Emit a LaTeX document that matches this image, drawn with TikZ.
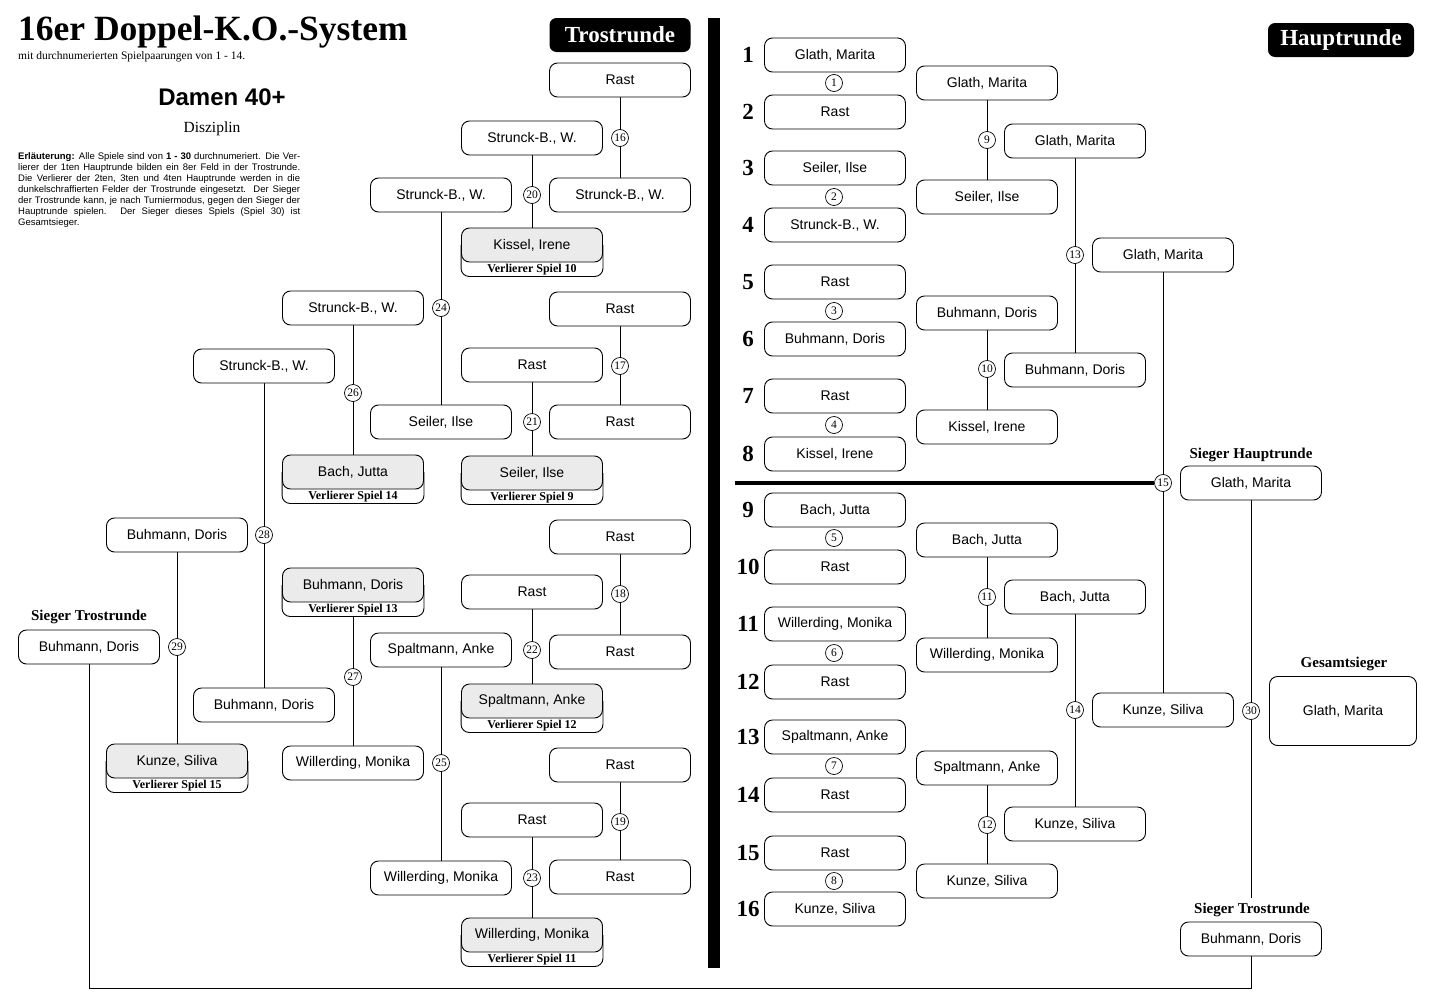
\documentclass[tikz,border=0pt]{standalone}
\usepackage{fontspec}
\setmainfont{Liberation Serif}
\setsansfont{Liberation Sans}
\usetikzlibrary{calc}
\pgfdeclarelayer{bg}
\pgfsetlayers{bg,main}
\newcommand\lbx[5]{%
  \node[lbox] (#1) at (#2,#3) {#4};
  \draw[boxline] (#1.west) -- ($(#1.south west)+(0,14)$) -- ($(#1.south east)+(0,14)$) -- (#1.east);
  \coordinate (#1b) at ($(#1.south)+(0,14)$);
  \node[vtext] (#1v) at ($(#1.south)+(0,7)$) {Verlierer Spiel #5};
}
\begin{document}
\begin{tikzpicture}[x=1pt,y=-1pt,
  boxline/.style={line width=0.9pt, rounded corners=8pt},
  pbox/.style={draw, line width=0.9pt, rounded corners=8pt, minimum width=141pt, minimum height=34pt, inner sep=0pt, fill=white, font=\sffamily\fontsize{14}{14}\selectfont},
  lbox/.style={pbox, fill=black!8},
  vtext/.style={inner sep=0pt, font=\bfseries\fontsize{12}{12}\selectfont},
  gnum/.style={circle, draw, line width=0.7pt, fill=white, minimum size=17pt, inner sep=0pt, font=\fontsize{11.5}{11.5}\selectfont},
  conn/.style={line width=0.9pt},
  seednum/.style={inner sep=0pt, font=\bfseries\fontsize{23}{23}\selectfont},
  capt/.style={inner sep=0pt, font=\bfseries\fontsize{15}{15}\selectfont},
  tag/.style={fill=black, text=white, rounded corners=7pt, minimum height=34pt, inner sep=0pt, font=\bfseries\fontsize{23}{23}\selectfont}
]
\useasboundingbox (0,0) rectangle (1433,1004);

% ---------- header ----------
\node[anchor=base west, inner sep=0pt, font=\bfseries\fontsize{35.5}{36}\selectfont] (title) at (18,40) {16er Doppel-K.O.-System};
\node[anchor=base west, inner sep=0pt, font=\fontsize{11.5}{12}\selectfont] (subt) at (18,59) {mit durchnumerierten Spielpaarungen von 1 - 14.};
\node[font=\sffamily\bfseries\fontsize{24}{24}\selectfont] (damen) at (222,97) {Damen 40+};
\node[font=\fontsize{15.5}{16}\selectfont] (disz) at (212,129) {Disziplin};
\node[anchor=north west, inner sep=0pt, align=left, font=\sffamily\fontsize{9.5}{11}\selectfont] (expl) at (18,152) {%
\makebox[282pt][s]{\textbf{Erläuterung:} Alle Spiele sind von \textbf{1 - 30} durchnumeriert. Die Ver-}\\
\makebox[282pt][s]{lierer der 1ten Hauptrunde bilden ein 8er Feld in der Trostrunde.}\\
\makebox[282pt][s]{Die Verlierer der 2ten, 3ten und 4ten Hauptrunde werden in die}\\
\makebox[282pt][s]{dunkelschraffierten Felder der Trostrunde eingesetzt. Der Sieger}\\
\makebox[282pt][s]{der Trostrunde kann, je nach Turniermodus, gegen den Sieger der}\\
\makebox[282pt][s]{Hauptrunde spielen. Der Sieger dieses Spiels (Spiel 30) ist}\\
Gesamtsieger.};

% ---------- tags ----------
\node[tag, minimum width=141pt] (tagT) at (620,35) {Trostrunde};
\node[tag, minimum width=146pt] (tagH) at (1341,40) {Hauptrunde};

% divider bar
\fill (708,18) rectangle (720,968);

% ---------- Trostrunde ----------
\node[pbox] (t16a) at (620,80) {Rast};
\node[pbox] (t20a) at (532,138) {Strunck-B., W.};
\node[pbox] (t16b) at (620,195) {Strunck-B., W.};
\node[pbox] (t24a) at (441,195) {Strunck-B., W.};
\lbx{t20b}{532}{245}{Kissel, Irene}{10}
\node[pbox] (t26a) at (353,308) {Strunck-B., W.};
\node[pbox] (t17a) at (620,309) {Rast};
\node[pbox] (t21a) at (532,365) {Rast};
\node[pbox] (t28a) at (264,366) {Strunck-B., W.};
\node[pbox] (t17b) at (620,422) {Rast};
\node[pbox] (t24b) at (441,422) {Seiler, Ilse};
\lbx{t26b}{353}{472}{Bach, Jutta}{14}
\lbx{t21b}{532}{473}{Seiler, Ilse}{9}
\node[pbox] (t29a) at (177,535) {Buhmann, Doris};
\node[pbox] (t18a) at (620,537) {Rast};
\lbx{t27a}{353}{585}{Buhmann, Doris}{13}
\node[pbox] (t22a) at (532,592) {Rast};
\node[pbox] (t25a) at (441,650) {Spaltmann, Anke};
\node[pbox] (t18b) at (620,652) {Rast};
\lbx{t22b}{532}{701}{Spaltmann, Anke}{12}
\node[capt] (lblTW) at (89,617) {Sieger Trostrunde};
\node[pbox] (tw) at (89,647) {Buhmann, Doris};
\node[pbox] (t28b) at (264,705) {Buhmann, Doris};
\node[pbox] (t27b) at (353,763) {Willerding, Monika};
\lbx{t29b}{177}{761}{Kunze, Siliva}{15}
\node[pbox] (t19a) at (620,765) {Rast};
\node[pbox] (t23a) at (532,820) {Rast};
\node[pbox] (t19b) at (620,877) {Rast};
\node[pbox] (t25b) at (441,878) {Willerding, Monika};
\lbx{t23b}{532}{935}{Willerding, Monika}{11}

% ---------- Hauptrunde round 1 ----------
\foreach \i/\y/\t in {1/55/{Glath, Marita},2/112/{Rast},3/168/{Seiler, Ilse},4/225/{Strunck-B., W.},
  5/282/{Rast},6/339/{Buhmann, Doris},7/396/{Rast},8/454/{Kissel, Irene},
  9/510/{Bach, Jutta},10/567/{Rast},11/624/{Willerding, Monika},12/682/{Rast},
  13/737/{Spaltmann, Anke},14/795/{Rast},15/853/{Rast},16/909/{Kunze, Siliva}}{
  \node[pbox] (h1-\i) at (835,\y) {\t};
  \node[seednum] (seed\i) at (748,\y) {\i};
}
\foreach \i/\y in {1/83,2/197,3/311,4/425,5/538,6/653,7/766,8/881}{
  \node[gnum] (g\i) at (834,\y) {\i};
}

% round 2
\node[pbox] (h2a) at (987,83) {Glath, Marita};
\node[pbox] (h2b) at (987,197) {Seiler, Ilse};
\node[pbox] (h2c) at (987,313) {Buhmann, Doris};
\node[pbox] (h2d) at (987,427) {Kissel, Irene};
\node[pbox] (h2e) at (987,540) {Bach, Jutta};
\node[pbox] (h2f) at (987,655) {Willerding, Monika};
\node[pbox] (h2g) at (987,768) {Spaltmann, Anke};
\node[pbox] (h2h) at (987,881) {Kunze, Siliva};
% round 3
\node[pbox] (h3a) at (1075,141) {Glath, Marita};
\node[pbox] (h3b) at (1075,370) {Buhmann, Doris};
\node[pbox] (h3c) at (1075,597) {Bach, Jutta};
\node[pbox] (h3d) at (1075,824) {Kunze, Siliva};
% round 4
\node[pbox] (h4a) at (1163,255) {Glath, Marita};
\node[pbox] (h4b) at (1163,710) {Kunze, Siliva};
% winners
\node[capt] (lblHW) at (1251,455) {Sieger Hauptrunde};
\node[pbox] (hw) at (1251,483) {Glath, Marita};
\node[capt] (lblGS) at (1344,664) {Gesamtsieger};
\node[pbox, minimum width=147pt, minimum height=69pt] (gs) at (1343,711) {Glath, Marita};
\node[capt] (lblTW2) at (1252,910) {Sieger Trostrunde};
\node[pbox] (tw2) at (1251,939) {Buhmann, Doris};

% ---------- game circles ----------
\node[gnum] (g9) at (987,140) {9};
\node[gnum] (g10) at (987,369) {10};
\node[gnum] (g11) at (987,597) {11};
\node[gnum] (g12) at (987,825) {12};
\node[gnum] (g13) at (1075,255) {13};
\node[gnum] (g14) at (1075,710) {14};
\node[gnum] (g15) at (1163,483) {15};
\node[gnum] (g16) at (620,138) {16};
\node[gnum] (g17) at (620,366) {17};
\node[gnum] (g18) at (620,594) {18};
\node[gnum] (g19) at (620,822) {19};
\node[gnum] (g20) at (532,195) {20};
\node[gnum] (g21) at (532,422) {21};
\node[gnum] (g22) at (532,650) {22};
\node[gnum] (g23) at (532,878) {23};
\node[gnum] (g24) at (441,308) {24};
\node[gnum] (g25) at (441,763) {25};
\node[gnum] (g26) at (353,393) {26};
\node[gnum] (g27) at (353,677) {27};
\node[gnum] (g28) at (264,535) {28};
\node[gnum] (g29) at (177,647) {29};
\node[gnum] (g30) at (1251,711) {30};

\coordinate (hsplit) at (735,483);
\coordinate (botc) at (1251,988);

% ---------- connectors ----------
\begin{pgfonlayer}{bg}
\draw[conn] (t16a) -- (t16b);
\draw[conn] (t20a) -- (t20b);
\draw[conn] (t24a) -- (t24b);
\draw[conn] (t17a) -- (t17b);
\draw[conn] (t21a) -- (t21b);
\draw[conn] (t26a) -- (t26b);
\draw[conn] (t28a) -- (t28b);
\draw[conn] (t29a) -- (t29b);
\draw[conn] (t18a) -- (t18b);
\draw[conn] (t22a) -- (t22b);
\draw[conn] (t27ab) -- (t27b);
\draw[conn] (t25a) -- (t25b);
\draw[conn] (t19a) -- (t19b);
\draw[conn] (t23a) -- (t23b);
\draw[conn] (h2a) -- (h2b);
\draw[conn] (h2c) -- (h2d);
\draw[conn] (h2e) -- (h2f);
\draw[conn] (h2g) -- (h2h);
\draw[conn] (h3a) -- (h3b);
\draw[conn] (h3c) -- (h3d);
\draw[conn] (h4a) -- (h4b);
\draw[conn] (hw.south) -- ($(lblTW2.north)+(-1,-5)$);
\draw[conn] (tw.south) |- (botc) -- (tw2.south);
\draw[line width=4pt] (hsplit) -- (g15.west);
\end{pgfonlayer}
\end{tikzpicture}
\end{document}
